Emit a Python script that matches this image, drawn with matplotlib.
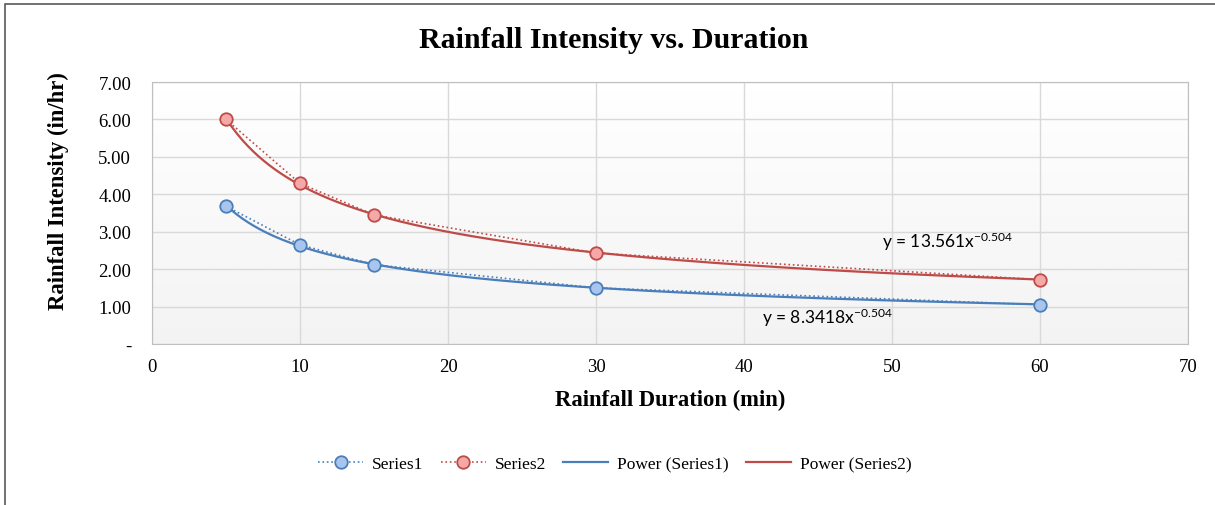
import numpy as np
import matplotlib.pyplot as plt
from matplotlib.patches import Rectangle
from matplotlib.ticker import FuncFormatter

# data
duration = [5, 10, 15, 30, 60]
series1 = [3.68, 2.65, 2.12, 1.50, 1.05]
series2 = [6.00, 4.29, 3.45, 2.43, 1.72]

# power trendline coefficients (as printed on the chart)
a1, b1 = 8.3418, -0.504
a2, b2 = 13.561, -0.504

blue_line = '#4a7ebb'
blue_face = '#a9c5ee'
red_line = '#be4b48'
red_face = '#f4a9a8'

plt.rcParams['font.family'] = ['Liberation Serif', 'DejaVu Serif']
plt.rcParams['mathtext.fontset'] = 'custom'
plt.rcParams['mathtext.rm'] = 'Lato'
plt.rcParams['mathtext.it'] = 'Lato'

fig = plt.figure(figsize=(12.15, 5.06), dpi=100)
ax = fig.add_axes([152 / 1215, 1 - 345 / 506, (1188 - 152) / 1215, (345 - 83) / 506])

# outer chart border (chart is cropped on the right and bottom)
fig.patches.append(Rectangle((5 / 1215, -0.1), 1.2, 1 - 5 / 506 + 0.1,
                             transform=fig.transFigure, fill=False,
                             edgecolor='#595959', linewidth=1.2))

# gradient plot background: light grey at the bottom, white at the top
grad = np.linspace(1, 0, 256).reshape(-1, 1)
ax.imshow(grad, extent=[0, 70, 0, 7], aspect='auto', cmap='Greys',
          vmin=0, vmax=10, origin='lower', zorder=0)
ax.set_xlim(0, 70)
ax.set_ylim(0, 7)

ax.plot(duration, series1, ls=':', lw=1.2, color=blue_line, marker='o',
        ms=9, mfc=blue_face, mec=blue_line, mew=1.3, label='Series1', zorder=4)
ax.plot(duration, series2, ls=':', lw=1.2, color=red_line, marker='o',
        ms=9, mfc=red_face, mec=red_line, mew=1.3, label='Series2', zorder=4)

xs = np.linspace(duration[0], duration[-1], 300)
ax.plot(xs, a1 * xs ** b1, color=blue_line, lw=1.6, label='Power (Series1)', zorder=3)
ax.plot(xs, a2 * xs ** b2, color=red_line, lw=1.6, label='Power (Series2)', zorder=3)

ax.text(41.2, 0.55, r'y = 8.3418x$^{-0.504}$', fontsize=12.5, family='Lato', zorder=5)
ax.text(49.3, 2.60, r'y = 13.561x$^{-0.504}$', fontsize=12.5, family='Lato', zorder=5)

ax.set_xticks(range(0, 71, 10))
ax.set_yticks(range(0, 8))
ax.yaxis.set_major_formatter(FuncFormatter(lambda v, p: '-' if v == 0 else f'{v:.2f}'))
ax.grid(True, color='#d9d9d9', lw=1.0, zorder=1)
ax.set_axisbelow(True)
ax.tick_params(length=0, labelsize=13.5)
ax.tick_params(axis='x', pad=10)
ax.tick_params(axis='y', pad=15)
for s in ax.spines.values():
    s.set_color('#bfbfbf')

ax.set_xlabel('Rainfall Duration (min)', fontsize=16.3, fontweight='bold', labelpad=10)
ax.set_ylabel('Rainfall Intensity (in/hr)', fontsize=16.3, fontweight='bold')
ax.yaxis.set_label_coords(-0.080, 0.588)
fig.text(614 / 1215, 1 - 40 / 506, 'Rainfall Intensity vs. Duration',
         ha='center', va='center', fontsize=21.5, fontweight='bold')

fig.legend(loc='center', bbox_to_anchor=(0.506, 1 - 465 / 506), ncol=4, frameon=False,
           fontsize=12.5, handlelength=2.6, columnspacing=1.0, handletextpad=0.5)

fig.savefig('out.png', dpi=100)
